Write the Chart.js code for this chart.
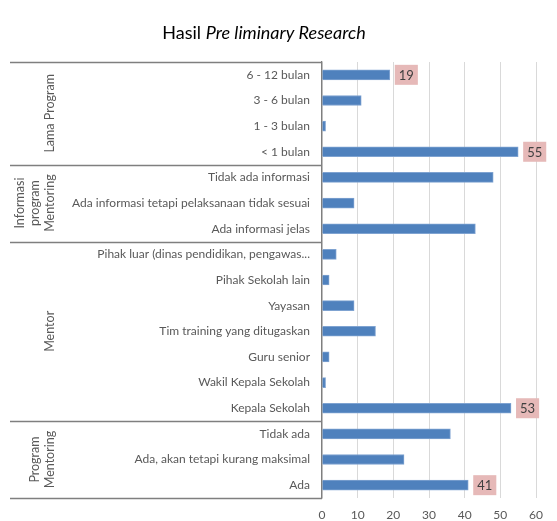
<!DOCTYPE html>
<html>
<head>
<meta charset="utf-8">
<script src="https://cdn.jsdelivr.net/npm/chart.js@4"></script>
<style>
  html, body { margin: 0; padding: 0; background: #fff; }
  #wrap { width: 557px; height: 521px; }
</style>
</head>
<body>
<div id="wrap"><canvas id="chart" width="557" height="521"></canvas></div>
<script>
// kategori dari atas ke bawah
const categories = [
  '6 - 12 bulan', '3 - 6 bulan', '1 - 3 bulan', '< 1 bulan',
  'Tidak ada informasi', 'Ada informasi tetapi pelaksanaan tidak sesuai', 'Ada informasi jelas',
  'Pihak luar (dinas pendidikan, pengawas...', 'Pihak Sekolah lain', 'Yayasan',
  'Tim training yang ditugaskan', 'Guru senior', 'Wakil Kepala Sekolah', 'Kepala Sekolah',
  'Tidak ada', 'Ada, akan tetapi kurang maksimal', 'Ada'
];
const values = [19, 11, 1, 55, 48, 9, 43, 4, 2, 9, 15, 2, 1, 53, 36, 23, 41];
// index kategori yang diberi label nilai
const labelled = [0, 3, 13, 16];
// kelompok: nama (baris), index awal, index akhir
const groupNames = [['Lama Program'], ['Informasi', 'program', 'Mentoring'], ['Mentor'], ['Program', 'Mentoring']];
const groupStart = [0, 4, 7, 14];
const groupEnd = [3, 6, 13, 16];
const xTicks = [0, 10, 20, 30, 40, 50, 60];

const FONT = 'Lato, "Open Sans", sans-serif';
const TXT = '#595959';

const decor = {
  id: 'decor',
  afterDraw(chart) {
    const { ctx, chartArea: a, scales: { x, y } } = chart;
    ctx.save();

    // judul dengan bagian miring
    ctx.fillStyle = '#000';
    ctx.textBaseline = 'middle';
    const t1 = 'Hasil ', t2 = 'Pre liminary Research';
    ctx.font = '18px ' + FONT;
    const w1 = ctx.measureText(t1).width;
    ctx.font = 'italic 18px ' + FONT;
    const w2 = ctx.measureText(t2).width;
    let tx = 264 - (w1 + w2) / 2;
    ctx.font = '18px ' + FONT;
    ctx.textAlign = 'left';
    ctx.fillText(t1, tx, 33);
    ctx.font = 'italic 18px ' + FONT;
    ctx.fillText(t2, tx + w1, 33);

    // garis pemisah kelompok
    const bandEdge = i => {
      if (i < 0) return a.top;
      if (i >= categories.length - 1) return a.bottom;
      return (y.getPixelForValue(i) + y.getPixelForValue(i + 1)) / 2;
    };
    ctx.strokeStyle = '#7f7f7f';
    ctx.lineWidth = 1.3;
    const edges = [-1].concat(groupEnd);
    edges.forEach(e => {
      const py = Math.round(bandEdge(e)) + 0.5;
      ctx.beginPath();
      ctx.moveTo(10, py);
      ctx.lineTo(a.left, py);
      ctx.stroke();
    });

    // nama kelompok (vertikal)
    ctx.fillStyle = TXT;
    ctx.font = '12.5px ' + FONT;
    ctx.textAlign = 'center';
    groupNames.forEach((lines, g) => {
      const cy = (bandEdge(groupStart[g] - 1) + bandEdge(groupEnd[g])) / 2;
      lines.forEach((ln, k) => {
        const cx = 50 - (lines.length - 1 - k) * 15;
        ctx.save();
        ctx.translate(cx, cy);
        ctx.rotate(-Math.PI / 2);
        ctx.fillText(ln, 0, 0);
        ctx.restore();
      });
    });

    // label nilai dengan kotak merah muda
    ctx.font = '13px ' + FONT;
    labelled.forEach(i => {
      const px = x.getPixelForValue(values[i]);
      const py = y.getPixelForValue(i);
      const txt = String(values[i]);
      const bw = ctx.measureText(txt).width + 8;
      ctx.fillStyle = '#e6b9b8';
      ctx.fillRect(px + 5, py - 10, bw, 20);
      ctx.fillStyle = '#404040';
      ctx.fillText(txt, px + 5 + bw / 2, py + 1);
    });
    ctx.restore();
  }
};

new Chart(document.getElementById('chart'), {
  type: 'bar',
  data: {
    labels: categories,
    datasets: [{
      data: values,
      backgroundColor: '#4f81bd',
      borderColor: '#7fa3d1',
      borderWidth: 1,
      barThickness: 10
    }]
  },
  options: {
    indexAxis: 'y',
    responsive: false,
    animation: false,
    layout: { padding: { top: 62, right: 21, left: 0, bottom: 0 } },
    plugins: { legend: { display: false }, tooltip: { enabled: false } },
    scales: {
      x: {
        min: 0, max: 60,
        afterBuildTicks: s => { s.ticks = xTicks.map(v => ({ value: v })); },
        afterFit: s => { s.height = 23; },
        grid: { color: '#d9d9d9', lineWidth: 1, drawTicks: false },
        border: { display: false },
        ticks: { color: TXT, font: { family: FONT, size: 12 }, padding: 10 }
      },
      y: {
        afterFit: s => { s.width = 322; },
        grid: { display: false, drawTicks: false },
        border: { display: true, color: '#7f7f7f', width: 1.3 },
        ticks: { color: TXT, font: { family: FONT, size: 12 }, padding: 12, autoSkip: false }
      }
    }
  },
  plugins: [decor]
});
</script>
</body>
</html>
